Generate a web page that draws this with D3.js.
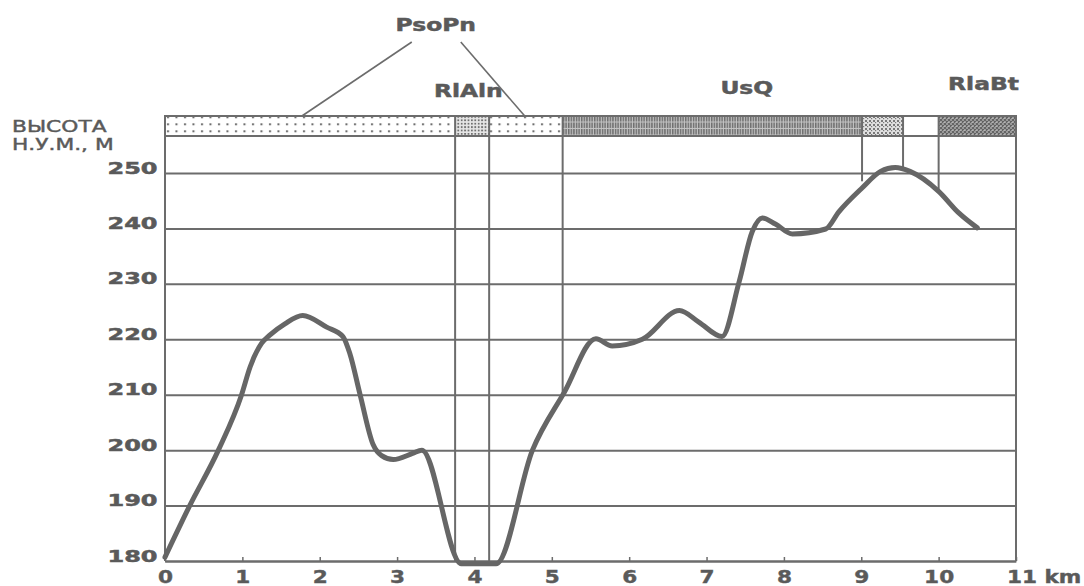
<!DOCTYPE html>
<html>
<head>
<meta charset="utf-8">
<script src="https://cdn.jsdelivr.net/npm/d3@7"></script>
<style>
  body { margin: 0; background: #fff; }
</style>
</head>
<body>
<div id="chart"></div>
<script>
// profile: distance along the line (km) and elevation (m a.s.l.)
const distanceKm = [0, 0.32, 0.69, 0.99, 1.1, 1.25, 1.35, 1.55, 1.78, 2.09, 2.3, 2.39, 2.52, 2.69, 2.8, 2.95, 3.2, 3.32,
  3.83, 4.28, 4.75, 5.16, 5.57, 5.78, 6.17, 6.65, 6.9, 7.2, 7.42, 7.59, 7.72, 7.89, 8.11, 8.54, 8.71, 9.01, 9.25,
  9.44, 9.63, 10.0, 10.26, 10.5];
const elevationM = [180.7, 190, 200, 210, 215, 219.3, 220.7, 222.8, 224.3, 222.2, 220.5, 217.4, 210.1, 201, 199, 198.3,
  199.4, 200, 179.5, 179.5, 200, 210.4, 220.1, 218.8, 220, 225.2, 223.1, 220.5, 230.3, 239.4, 241.9, 240.8, 239,
  239.9, 243, 247.3, 250.3, 251, 250.3, 246.7, 242.8, 240.1];

const xTicks = d3.range(0, 12);
const yTicks = [180, 190, 200, 210, 220, 230, 240, 250];

// geological units along the strip at the top
const unitStart = [0, 3.75, 4.19, 5.14, 9.01, 9.54, 10.0];
const unitEnd = [3.75, 4.19, 5.14, 9.01, 9.54, 10.0, 11];
const unitCode = ["PsoPn", "RlAln", "PsoPn", "UsQ", "UsQ-RlaBt", "none", "RlaBt"];

// contacts drawn down from the strip, and the elevation where each stops
const contactKm = [3.75, 4.19, 5.14, 9.01, 9.54, 10.0];
const contactBottomM = [180, 180, 209.5, 248.5, 251, 246.5];

const labelText = ["PsoPn", "RlAln", "UsQ", "RlaBt"];
const labelKm = [3.5, 3.92, 7.52, 10.58];
const leaderKm = [1.77, 4.65]; // where the PsoPn leaders touch the strip

const width = 1084, height = 586;
const ink = "#6c6c6c", textInk = "#5a5a5a";
const font = "'DejaVu Sans', Arial, sans-serif";
const bandTop = 116, bandBottom = 136;

const x = d3.scaleLinear([0, 11], [165, 1016]);
const y = d3.scaleLinear([180, 250], [561, 173]);

const svg = d3.select("#chart").append("svg")
    .attr("width", width)
    .attr("height", height)
    .attr("viewBox", [0, 0, width, height]);

// fill patterns for the unit strip
const defs = svg.append("defs");
const pat = (id, w, h) => defs.append("pattern")
    .attr("id", id)
    .attr("patternUnits", "userSpaceOnUse")
    .attr("x", x(0)).attr("y", bandTop)
    .attr("width", w).attr("height", h);

pat("PsoPn", 8.5, 7).append("rect")
    .attr("x", 2).attr("y", 0.3).attr("width", 2).attr("height", 2).attr("fill", "#6a6a6a");

const rl = pat("RlAln", 3.4, 3.4);
rl.append("rect").attr("width", 3.4).attr("height", 3.4).attr("fill", "#e6e6e6");
rl.append("rect").attr("x", 0).attr("y", 0).attr("width", 1.8).attr("height", 1.8).attr("fill", "#707070");

const usq = pat("UsQ", 2.6, 6.5);
usq.append("rect").attr("width", 2.6).attr("height", 6.5).attr("fill", "#c4c4c4");
usq.append("rect").attr("x", 0).attr("y", 0).attr("width", 1.5).attr("height", 5.5).attr("fill", "#6e6e6e");

const mix = pat("UsQ-RlaBt", 4, 4);
mix.append("rect").attr("width", 4).attr("height", 4).attr("fill", "#e0e0e0");
mix.append("rect").attr("x", 0).attr("y", 0).attr("width", 2).attr("height", 2).attr("fill", "#7a7a7a");
mix.append("rect").attr("x", 2).attr("y", 2).attr("width", 1.2).attr("height", 1.2).attr("fill", "#7a7a7a");

const rb = pat("RlaBt", 4, 4);
rb.append("rect").attr("width", 4).attr("height", 4).attr("fill", "#b4b4b4");
rb.append("path").attr("d", "M0,0L4,4M4,0L0,4").attr("stroke", "#626262").attr("stroke-width", 1.2);

// stretched, heavy text helper (the original lettering is very wide)
function wideText(g, px, py, str, opts) {
  return g.append("text")
      .attr("transform", `translate(${px},${py}) scale(${opts.sx},1)`)
      .attr("text-anchor", opts.anchor || "middle")
      .attr("font-family", font)
      .attr("font-weight", opts.weight || "bold")
      .attr("font-size", opts.size)
      .attr("fill", textInk)
      .attr("stroke", textInk)
      .attr("stroke-width", opts.stroke ?? 0.5)
      .text(str);
}

// y axis with grid lines
svg.append("g")
    .attr("transform", `translate(${x(0)},0)`)
    .call(d3.axisLeft(y).tickValues(yTicks).tickSize(-(x(11) - x(0))).tickSizeOuter(0)
      .tickPadding(5).tickFormat(d3.format("d")))
    .call(g => g.select(".domain").remove())
    .call(g => g.selectAll(".tick line").attr("stroke", ink).attr("stroke-width", 2))
    .call(g => g.selectAll(".tick text")
      .attr("dy", 0)
      .attr("transform", "scale(1.5,1)")
      .attr("font-family", font)
      .attr("font-weight", "bold")
      .attr("font-size", 16)
      .attr("fill", textInk)
      .attr("stroke", textInk)
      .attr("stroke-width", 0.5));

// x axis
svg.append("g")
    .attr("transform", `translate(0,${y(180)})`)
    .call(d3.axisBottom(x).tickValues(xTicks).tickSize(-4).tickSizeOuter(0)
      .tickPadding(9).tickFormat(d => d === 11 ? "11 km" : d))
    .call(g => g.select(".domain").attr("stroke", ink).attr("stroke-width", 2))
    .call(g => g.selectAll(".tick line").attr("stroke", ink).attr("stroke-width", 1.5))
    .call(g => g.selectAll(".tick text")
      .attr("transform", "scale(1.2,1)")
      .attr("font-family", font)
      .attr("font-weight", "bold")
      .attr("font-size", 18)
      .attr("fill", textInk)
      .attr("stroke", textInk)
      .attr("stroke-width", 0.4))
    .call(g => g.selectAll(".tick text").filter(d => d === 11)
      .attr("text-anchor", "start")
      .attr("x", -8));

// frame sides
svg.append("g")
    .attr("stroke", ink)
    .attr("stroke-width", 2)
  .selectAll("line")
  .data([0, 11])
  .join("line")
    .attr("x1", d => x(d)).attr("x2", d => x(d))
    .attr("y1", bandTop).attr("y2", y(180));

// unit strip
svg.append("g")
  .selectAll("rect")
  .data(d3.range(unitCode.length))
  .join("rect")
    .attr("x", i => x(unitStart[i]))
    .attr("y", bandTop)
    .attr("width", i => x(unitEnd[i]) - x(unitStart[i]))
    .attr("height", bandBottom - bandTop)
    .attr("fill", i => unitCode[i] === "none" ? "#fff" : `url(#${unitCode[i]})`);

svg.append("rect")
    .attr("x", x(0))
    .attr("y", bandTop)
    .attr("width", x(11) - x(0))
    .attr("height", bandBottom - bandTop)
    .attr("fill", "none")
    .attr("stroke", ink)
    .attr("stroke-width", 2);

// contacts
svg.append("g")
    .attr("stroke", ink)
    .attr("stroke-width", 2)
  .selectAll("line")
  .data(d3.range(contactKm.length))
  .join("line")
    .attr("x1", i => x(contactKm[i])).attr("x2", i => x(contactKm[i]))
    .attr("y1", bandTop)
    .attr("y2", i => y(contactBottomM[i]));

// elevation profile
const line = d3.line()
    .x(i => x(distanceKm[i]))
    .y(i => y(elevationM[i]))
    .curve(d3.curveMonotoneX);

svg.append("path")
    .attr("d", line(d3.range(distanceKm.length)))
    .attr("fill", "none")
    .attr("stroke", "#666")
    .attr("stroke-width", 5)
    .attr("stroke-linejoin", "round")
    .attr("stroke-linecap", "round");

// unit labels
const labelY = [31, 97, 94, 90];
const labels = svg.append("g");
labelText.forEach((t, i) => wideText(labels, x(labelKm[i]), labelY[i], t, {sx: 1.3, size: 18}));

svg.append("g")
    .attr("stroke", ink)
    .attr("stroke-width", 1.6)
  .selectAll("line")
  .data(leaderKm)
  .join("line")
    .attr("x1", (d, i) => x(labelKm[0]) + (i ? 25 : -24))
    .attr("y1", 42)
    .attr("x2", d => x(d))
    .attr("y2", bandTop);

// y axis title
const title = svg.append("g");
wideText(title, 12, 131.5, "ВЫСОТА", {sx: 1.45, size: 15, weight: "normal", anchor: "start", stroke: 0.4});
wideText(title, 12, 150, "Н.У.М., М", {sx: 1.45, size: 15, weight: "normal", anchor: "start", stroke: 0.4});
</script>
</body>
</html>
